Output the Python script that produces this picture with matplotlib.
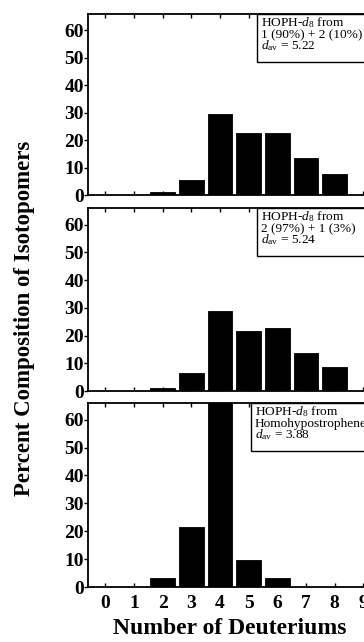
import matplotlib
matplotlib.use("Agg")
import matplotlib.pyplot as plt
from matplotlib.patches import Rectangle

plt.rcParams['font.family'] = ['Liberation Serif', 'DejaVu Serif']
plt.rcParams['mathtext.fontset'] = 'custom'
plt.rcParams['mathtext.rm'] = 'Liberation Serif'
plt.rcParams['mathtext.it'] = 'Liberation Serif:italic'
plt.rcParams['mathtext.bf'] = 'Liberation Serif:bold'

deuteriums = [0, 1, 2, 3, 4, 5, 6, 7, 8, 9]
panel1 = [0, 0, 1.2, 5.5, 29.6, 22.6, 22.6, 13.6, 7.7, 0]
panel2 = [0, 0, 1.2, 6.5, 28.8, 21.6, 22.7, 13.8, 8.6, 0]
panel3 = [0, 0, 3.2, 21.6, 70.0, 9.6, 3.3, 0, 0, 0]
yticks = [0, 10, 20, 30, 40, 50, 60]

labels1 = [r"HOPH-$d_8$ from", "1 (90%) + 2 (10%)", r"$d_{\mathrm{av}}$ = 5.22"]
labels2 = [r"HOPH-$d_8$ from", "2 (97%) + 1 (3%)", r"$d_{\mathrm{av}}$ = 5.24"]
labels3 = [r"HOPH-$d_8$ from", "Homohypostrophene", r"$d_{\mathrm{av}}$ = 3.88"]

W, H = 364, 642
fig = plt.figure(figsize=(W / 100, H / 100), dpi=100)

# panels in pixel coords: (top, bottom)
panels = [(14, 195, panel1, labels1, 257),
          (208, 391, panel2, labels2, 257),
          (403, 587, panel3, labels3, 251)]
left_px, right_px = 88, 382

for i, (top, bot, vals, labs, boxleft) in enumerate(panels):
    ax = fig.add_axes([left_px / W, 1 - bot / H, (right_px - left_px) / W, (bot - top) / H])
    ax.bar(deuteriums, vals, width=0.86, color='black', edgecolor='black', linewidth=0.6)
    ax.set_xlim(-0.6, 9.65)
    ax.set_ylim(0, 66)
    ax.set_yticks(yticks)
    ax.set_yticklabels([str(v) for v in yticks], fontsize=14, fontweight='bold')
    ax.set_xticks(deuteriums)
    ax.tick_params(axis='y', direction='out', length=3, width=1, pad=0)
    ax.tick_params(axis='x', direction='in', length=3, width=1, top=True, bottom=True)
    if i == 2:
        ax.set_xticklabels([str(v) for v in deuteriums], fontsize=14, fontweight='bold')
        ax.tick_params(axis='x', pad=6)
    else:
        ax.set_xticklabels([])
    for s in ax.spines.values():
        s.set_linewidth(1.3)
    # annotation box
    box_h = 48
    rect = Rectangle((boxleft / W, 1 - (top + box_h) / H), 0.5, box_h / H,
                     transform=fig.transFigure, facecolor='white',
                     edgecolor='black', linewidth=1.0, clip_on=False, zorder=5)
    fig.add_artist(rect)
    for j, t in enumerate(labs):
        fig.text((boxleft + 4) / W, 1 - (top + 12.5 + j * 11.5) / H, t,
                 fontsize=9.6, ha='left', va='baseline', zorder=6)

fig.text(25 / W, 1 - 318 / H, "Percent Composition of Isotopomers",
         rotation=90, fontsize=16.5, fontweight='bold', ha='center', va='center')
fig.text(230 / W, 1 - 629 / H, "Number of Deuteriums",
         fontsize=17, fontweight='bold', ha='center', va='center')

fig.savefig("out.png", dpi=100)
